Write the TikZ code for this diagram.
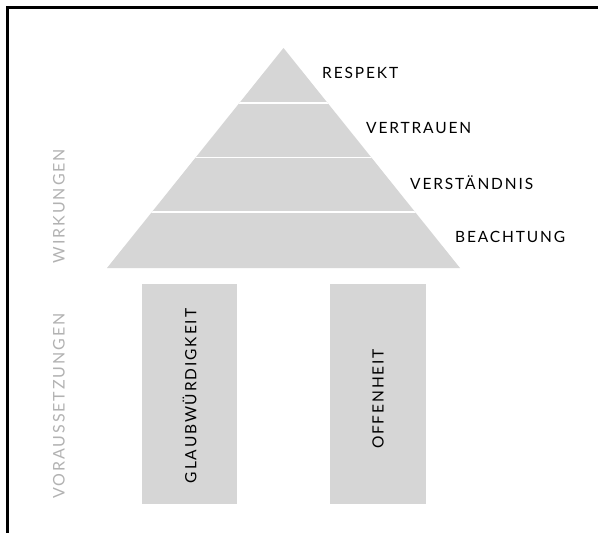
\documentclass[tikz,border=0pt]{standalone}
\usepackage{fontspec}
\setmainfont{Lato}[LetterSpace=12]
\begin{document}
\begin{tikzpicture}[x=1pt,y=-1pt,
  level/.style={anchor=west,font=\fontsize{15.5}{16}\selectfont,text=black,inner sep=0pt},
  pillartext/.style={rotate=90,font=\fontsize{15.5}{16}\selectfont,text=black,inner sep=0pt},
  sidetext/.style={rotate=90,font=\fontsize{16}{17}\selectfont,text=sidegray,inner sep=0pt},
  sep/.style={draw=white,line width=1.6pt}]
\definecolor{blockgray}{RGB}{214,214,214}
\definecolor{sidegray}{RGB}{178,178,178}
\useasboundingbox (0,0) rectangle (598,533);
\fill[white] (0,0) rectangle (598,533);
% frame edges
\draw[line width=2.3pt] (7.5,533) -- (7.5,7.5) -- (598,7.5);
% pyramid
\coordinate (apex) at (283.5,48);
\coordinate (bl) at (107,268);
\coordinate (br) at (460,268);
\fill[blockgray] (apex) -- (br) -- (bl) -- cycle;
\begin{scope}
  \clip (apex) -- (br) -- (bl) -- cycle;
  \draw[sep] (100,103) -- (470,103);
  \draw[sep] (100,157.5) -- (470,157.5);
  \draw[sep] (100,212) -- (470,212);
\end{scope}
% level labels
\node[level] (respekt) at (322,73) {RESPEKT};
\node[level] (vertrauen) at (366,128) {VERTRAUEN};
\node[level] (verstaendnis) at (410,183) {VERSTÄNDNIS};
\node[level] (beachtung) at (455,237) {BEACHTUNG};
% pillars
\fill[blockgray] (142,284) rectangle (237,504);
\fill[blockgray] (330,284) rectangle (426,504);
\node[pillartext] (glaub) at (189.5,396) {GLAUBWÜRDIGKEIT};
\node[pillartext] (offen) at (378,399) {OFFENHEIT};
% side captions
\node[sidetext] (wirk) at (59,206) {WIRKUNGEN};
\node[sidetext] (vor) at (59,406) {VORAUSSETZUNGEN};
\end{tikzpicture}
\end{document}
